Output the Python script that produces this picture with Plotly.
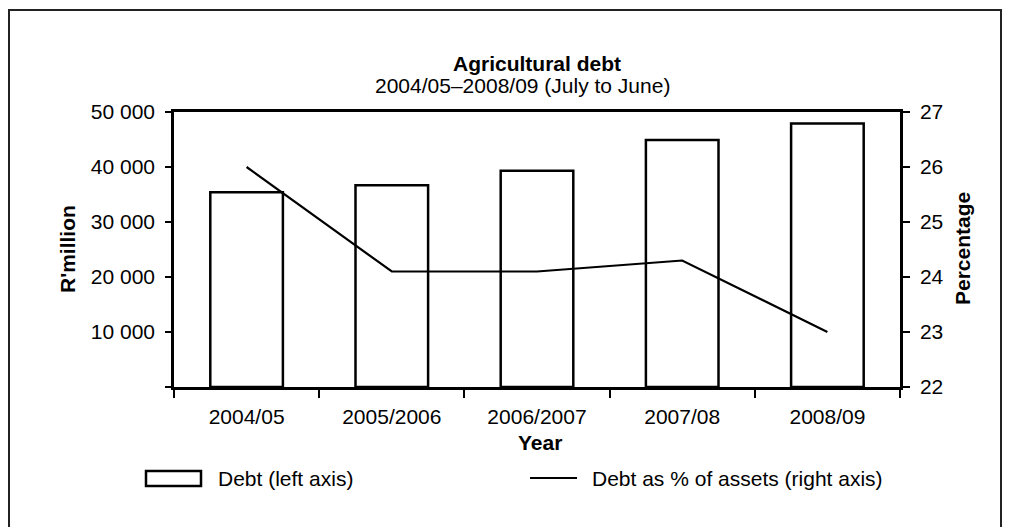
import plotly.graph_objects as go

# ---- data ----
years = ["2004/05", "2005/2006", "2006/2007", "2007/08", "2008/09"]
debt_rmillion = [35400, 36700, 39300, 44900, 47900]
debt_pct_assets = [26.0, 24.1, 24.1, 24.3, 23.0]
left_tickvals = [0, 10000, 20000, 30000, 40000, 50000]
left_ticktext = ["", "10 000", "20 000", "30 000", "40 000", "50 000"]
right_tickvals = [22, 23, 24, 25, 26, 27]
bar_name = "Debt (left axis)"
line_name = "Debt as % of assets (right axis)"
title_text = "Agricultural debt"
subtitle_text = "2004/05\u20132008/09 (July to June)"

# ---- layout geometry ----
# the page body has an 8px margin, so the figure is drawn 8px in from the window corner
OFF = 8
W, H = 1010 - OFF, 527 - OFF
PL, PR, PT, PB = 174, 900, 112, 387          # plot box in window pixels
L, T = PL - OFF, PT - OFF
R, B = W - (PR - OFF), H - (PB - OFF)
PW, PH = PR - PL, PB - PT

def px(x):
    return (x - PL) / PW

def py(y):
    return 1 - (y - PT) / PH

FONT = "Liberation Sans, Arial, Helvetica, sans-serif"
FS = 21

fig = go.Figure()
fig.add_trace(go.Bar(
    x=years, y=debt_rmillion, name=bar_name, width=0.5,
    marker=dict(color="white", line=dict(color="black", width=2.5)),
    showlegend=False,
))
fig.add_trace(go.Scatter(
    x=years, y=debt_pct_assets, name=line_name, yaxis="y2", mode="lines",
    line=dict(color="black", width=2.2), showlegend=False,
))

def ann(text, x, y, anchor="center", angle=0):
    return dict(text=text, x=px(x), y=py(y), xref="paper", yref="paper", textangle=angle,
                showarrow=False, font=dict(size=FS, family=FONT, color="black"),
                xanchor=anchor, yanchor="middle")

annotations = [
    ann("<b>" + title_text + "</b>", 537, 64),
    ann(subtitle_text, 522, 85),
    ann("<b>R'million</b>", 67, 249, angle=-90),
    ann("<b>Percentage</b>", 962, 249, angle=-90),
    ann("<b>Year</b>", 540, 442),
    ann(bar_name, 216, 478, anchor="left"),
    ann(line_name, 590, 478, anchor="left"),
]

shapes = [
    # outer frame
    dict(type="rect", xref="paper", yref="paper", x0=px(9), x1=px(1001), y0=py(10), y1=py(540),
         line=dict(color="#222222", width=2), fillcolor="rgba(0,0,0,0)", layer="below"),
    # legend bar symbol
    dict(type="rect", xref="paper", yref="paper", x0=px(146), x1=px(201), y0=py(471), y1=py(486),
         line=dict(color="black", width=2.5), fillcolor="white"),
    # legend line symbol
    dict(type="line", xref="paper", yref="paper", x0=px(530), x1=px(577), y0=py(478), y1=py(478),
         line=dict(color="black", width=2.2)),
]

fig.update_layout(
    width=W, height=H,
    margin=dict(l=L, r=R, t=T, b=B, pad=0),
    paper_bgcolor="white", plot_bgcolor="white",
    font=dict(family=FONT, size=FS, color="black"),
    annotations=annotations, shapes=shapes,
    bargap=0.5,
    xaxis=dict(
        type="category", showline=True, linecolor="black", linewidth=2.5, mirror=True,
        ticks="outside", ticklen=8, tickwidth=2, tickcolor="black", tickson="boundaries",
        showgrid=False, zeroline=False, tickfont=dict(size=FS, family=FONT),
        ticklabelstandoff=9,
    ),
    yaxis=dict(
        range=[0, 50000], tickvals=left_tickvals, ticktext=left_ticktext,
        showline=True, linecolor="black", linewidth=2.5,
        ticks="outside", ticklen=6, tickwidth=2, tickcolor="black",
        showgrid=False, zeroline=False, tickfont=dict(size=FS, family=FONT),
        ticklabelstandoff=6,
    ),
    yaxis2=dict(
        range=[22, 27], tickvals=right_tickvals, overlaying="y", side="right",
        showline=True, linecolor="black", linewidth=2.5,
        ticks="outside", ticklen=7, tickwidth=2, tickcolor="black",
        showgrid=False, zeroline=False, tickfont=dict(size=FS, family=FONT),
        ticklabelstandoff=6,
    ),
)

fig.write_html("out.html")
